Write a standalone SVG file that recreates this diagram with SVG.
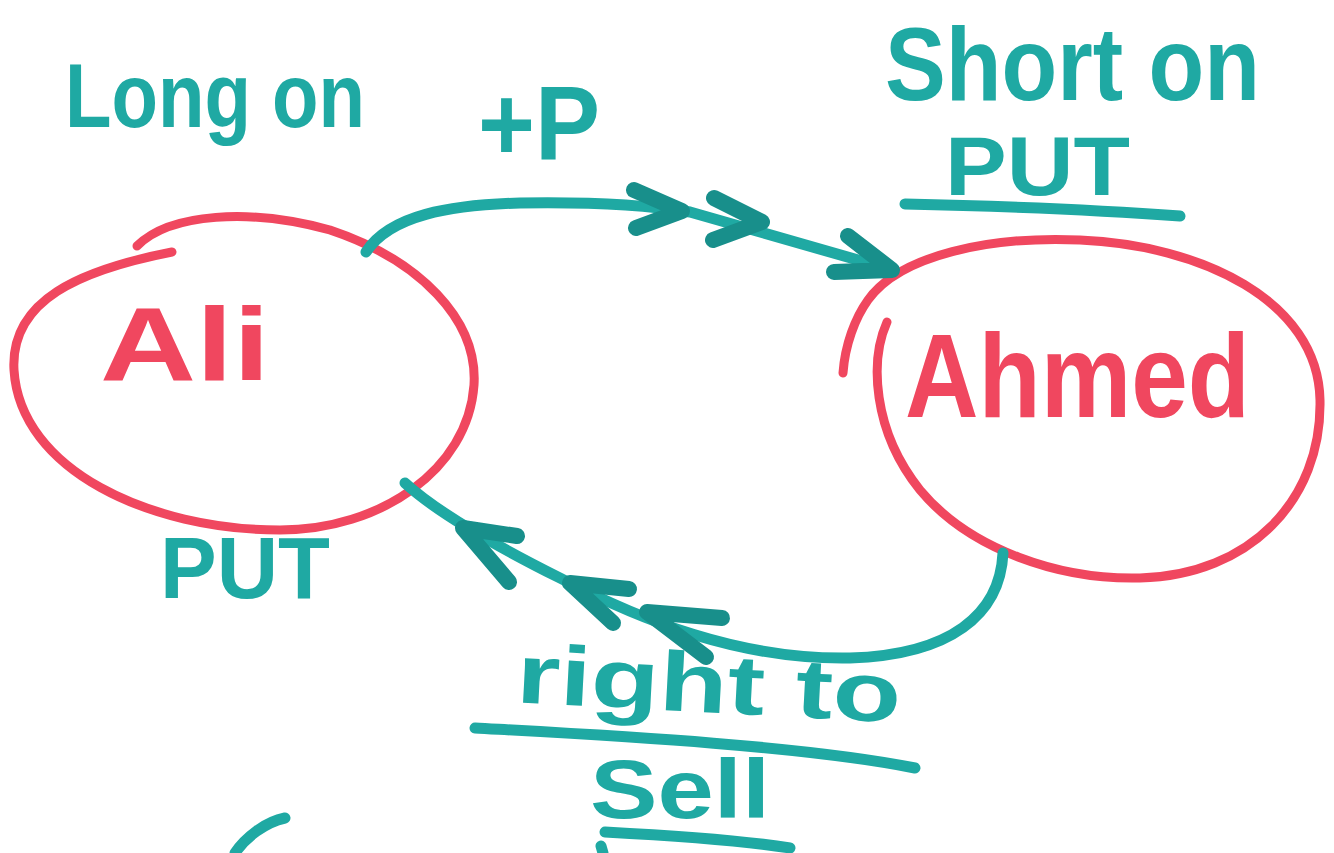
<svg xmlns="http://www.w3.org/2000/svg" width="1334" height="853" viewBox="0 0 1334 853">
<style>
.bg{fill:#ffffff}
.node{fill:none;stroke:#f0475f;stroke-width:9;stroke-linecap:round;stroke-linejoin:round}
.conn{fill:none;stroke:#1fa9a3;stroke-width:11;stroke-linecap:round;stroke-linejoin:round}
.head{fill:none;stroke:#188f8b;stroke-width:16;stroke-linecap:round;stroke-linejoin:round}
.ul{fill:none;stroke:#1fa9a3;stroke-width:11;stroke-linecap:round}
.t{font-family:"Liberation Sans",Arial,sans-serif;font-weight:bold;fill:#1fa9a3}
.r{font-family:"Liberation Sans",Arial,sans-serif;font-weight:bold;fill:#f0475f}
</style>
<rect class="bg" x="0" y="0" width="1334" height="853"/>

<g id="label-long-on">
<text class="t" x="65" y="127" font-size="90" textLength="300" lengthAdjust="spacingAndGlyphs">Long on</text>
</g>
<g id="label-plus-p">
<text class="t" x="478" y="160" font-size="105" textLength="122" lengthAdjust="spacingAndGlyphs">+P</text>
</g>
<g id="label-short-on">
<text class="t" x="885" y="100" font-size="104" textLength="375" lengthAdjust="spacingAndGlyphs">Short on</text>
<text class="t" x="945" y="195" font-size="83" textLength="185" lengthAdjust="spacingAndGlyphs">PUT</text>
<path class="ul" d="M905,204 C1000,206 1100,210 1180,216"/>
</g>

<g id="node-ali">
<path class="node" d="M137,246 C170,213 250,208 330,230 C420,260 478,320 474,385 C468,470 380,530 280,530 C150,530 20,470 14,370 C10,300 80,270 172,252"/>
<text class="r" x="100" y="380" font-size="104" textLength="170" lengthAdjust="spacingAndGlyphs">Ali</text>
</g>
<g id="label-put">
<text class="t" x="160" y="598" font-size="87" textLength="170" lengthAdjust="spacingAndGlyphs">PUT</text>
</g>

<g id="node-ahmed">
<path class="node" d="M887,322 C870,360 872,430 920,490 C970,550 1060,580 1140,578 C1250,575 1322,500 1320,400 C1318,300 1200,245 1080,240 C990,236 900,255 868,300 C855,318 845,345 843,373"/>
<text class="r" x="905" y="417" font-size="118" textLength="345" lengthAdjust="spacingAndGlyphs">Ahmed</text>
</g>

<g id="label-right-to-sell">
<text class="t" x="515" y="712" font-size="84" textLength="385" lengthAdjust="spacingAndGlyphs" transform="rotate(3 700 712)">right to</text>
<path class="ul" d="M475,728 C600,735 800,745 915,768"/>
<text class="t" x="590" y="818" font-size="84" textLength="180" lengthAdjust="spacingAndGlyphs">Sell</text>
<path class="ul" d="M605,832 C680,836 740,840 790,848"/>
</g>

<g id="connectors">
<path class="conn" d="M366,252 C390,215 450,205 520,203 C580,202 640,204 690,212 L893,270"/>
<polyline class="head" points="634,190 682,211 636,228"/>
<polyline class="head" points="714,198 762,222 713,240"/>
<polyline class="head" points="848,236 892,270 834,272"/>
<path class="conn" d="M1003,553 C1000,615 950,655 850,658 C740,660 640,620 560,578 C500,548 440,515 405,483"/>
<polyline class="head" points="517,536 463,528 509,582"/>
<polyline class="head" points="629,589 570,583 613,623"/>
<polyline class="head" points="722,618 647,612 706,657"/>
</g>

<g id="fragments">
<path class="ul" d="M285,818 C265,822 245,838 235,853"/>
<path class="ul" d="M601,846 L603,853"/>
</g>
</svg>
